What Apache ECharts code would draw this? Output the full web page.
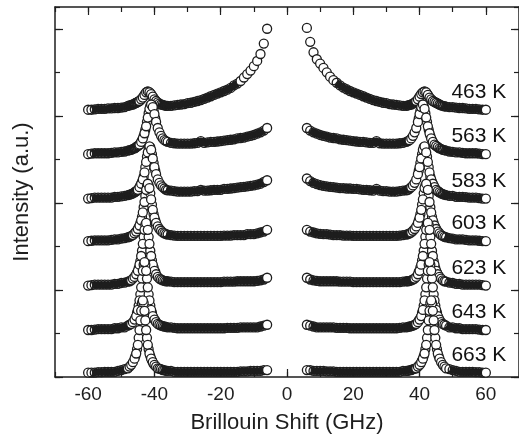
<!DOCTYPE html>
<html>
<head>
<meta charset="utf-8">
<script src="https://cdn.jsdelivr.net/npm/echarts@6/dist/echarts.min.js"></script>
<style>
  html, body { margin: 0; padding: 0; background: #fff; }
  #chart { width: 519px; height: 445px; }
</style>
</head>
<body>
<div id="chart"></div>
<script>
// temperatures, stacking offsets (a.u.)
var temps = [463, 563, 583, 603, 623, 643, 663];
var offsets = [3.07, 2.56, 2.05, 1.56, 1.05, 0.54, 0.05];

// anti-Stokes side, GHz
var xLeft = [-60, -59, -58, -57, -56, -55, -54, -53, -52, -51, -50, -49,
  -48, -47.5, -47, -46.5, -46, -45.5, -45, -44.5, -44, -43.5, -43, -42.5, -42,
  -41.5, -41, -40.5, -40, -39.5, -39, -38.5, -38, -37.5, -37, -36.5, -36,
  -35, -34, -33, -32, -31, -30, -29, -28, -27, -26, -25, -24, -23, -22, -21,
  -20, -19, -18, -17, -16, -15, -14, -13, -12, -11, -10, -9, -8, -7, -6];
// Stokes side, GHz
var xRight = [6, 7, 8, 9, 10, 11, 12, 13, 14, 15, 16, 17, 18, 19, 20, 21, 22,
  23, 24, 25, 26, 27, 28, 29, 30, 31, 32, 33, 34, 35,
  36, 36.5, 37, 37.5, 38, 38.5, 39, 39.5, 40, 40.5, 41, 41.5, 42, 42.5, 43,
  43.5, 44, 44.5, 45, 45.5, 46, 46.5, 47, 47.5, 48,
  49, 50, 51, 52, 53, 54, 55, 56, 57, 58, 59, 60];
// extra points on the steep flanks of the Brillouin peaks
var xLeftPeak = [-45.75, -45.25, -44.75, -44.25, -43.75, -43.25, -42.75, -42.25,
  -41.75, -41.25, -40.75, -40.25, -39.75];
var xRightPeak = [39.75, 40.25, 40.75, 41.25, 41.75, 42.25, 42.75, 43.25, 43.75,
  44.25, 44.75, 45.25, 45.75];

// intensity above each baseline
var i463L = [0, 0, 0.005, 0.01, 0.01, 0.01, 0.015, 0.015, 0.02, 0.02, 0.025, 0.03,
  0.045, 0.05, 0.055, 0.06, 0.07, 0.08, 0.09, 0.10, 0.12, 0.14, 0.17, 0.20, 0.21,
  0.20, 0.18, 0.15, 0.12, 0.10, 0.085, 0.07, 0.06, 0.055, 0.05, 0.045, 0.045,
  0.045, 0.05, 0.055, 0.06, 0.065, 0.075, 0.08, 0.09, 0.10, 0.11, 0.125, 0.14, 0.155,
  0.17, 0.185, 0.20, 0.215, 0.23, 0.25, 0.28, 0.30, 0.33, 0.37, 0.41, 0.45, 0.50,
  0.56, 0.64, 0.76, 0.93];
var i463R = [0.94, 0.78, 0.66, 0.58, 0.53, 0.48, 0.43, 0.38, 0.34, 0.31, 0.28, 0.255,
  0.235, 0.215, 0.20, 0.185, 0.17, 0.155, 0.14, 0.125, 0.11, 0.10, 0.09, 0.08, 0.075,
  0.065, 0.06, 0.055, 0.05, 0.045,
  0.045, 0.05, 0.055, 0.06, 0.07, 0.085, 0.10, 0.12, 0.15, 0.18, 0.20, 0.21, 0.20,
  0.17, 0.14, 0.12, 0.10, 0.09, 0.08, 0.07, 0.06, 0.05, 0.045, 0.04, 0.035,
  0.03, 0.03, 0.025, 0.02, 0.02, 0.015, 0.01, 0.01, 0.01, 0.005, 0, 0];
var p463L = [0.075, 0.085, 0.095, 0.11, 0.13, 0.155, 0.185, 0.205, 0.205, 0.19, 0.165, 0.135, 0.11];
var p463R = [0.135, 0.165, 0.19, 0.205, 0.205, 0.185, 0.155, 0.13, 0.11, 0.095, 0.085, 0.075, 0.065];

var i563L = [0, 0.005, 0.01, 0.01, 0.01, 0.01, 0.01, 0.015, 0.02, 0.02, 0.025, 0.03,
  0.04, 0.045, 0.05, 0.06, 0.065, 0.08, 0.095, 0.11, 0.14, 0.18, 0.24, 0.32, 0.42,
  0.52, 0.57, 0.54, 0.46, 0.37, 0.30, 0.25, 0.21, 0.18, 0.16, 0.15, 0.14,
  0.13, 0.125, 0.12, 0.12, 0.12, 0.12, 0.12, 0.125, 0.13, 0.15, 0.13, 0.135, 0.14,
  0.14, 0.145, 0.15, 0.155, 0.16, 0.165, 0.17, 0.18, 0.185, 0.19, 0.20, 0.21, 0.22,
  0.235, 0.25, 0.27, 0.30];
var i563R = [0.30, 0.27, 0.25, 0.235, 0.22, 0.21, 0.20, 0.19, 0.185, 0.18, 0.17, 0.165,
  0.16, 0.155, 0.15, 0.145, 0.14, 0.14, 0.135, 0.13, 0.13, 0.15, 0.125, 0.12, 0.12,
  0.12, 0.12, 0.12, 0.125, 0.13,
  0.14, 0.15, 0.16, 0.18, 0.21, 0.25, 0.30, 0.37, 0.46, 0.54, 0.57, 0.52, 0.42,
  0.32, 0.24, 0.18, 0.14, 0.11, 0.095, 0.08, 0.065, 0.06, 0.05, 0.045, 0.04,
  0.03, 0.025, 0.02, 0.02, 0.015, 0.01, 0.01, 0.01, 0.01, 0.005, 0, 0];
var p563L = [0.072, 0.088, 0.10, 0.125, 0.16, 0.21, 0.28, 0.37, 0.47, 0.555, 0.56, 0.50, 0.41];
var p563R = [0.41, 0.50, 0.56, 0.555, 0.47, 0.37, 0.28, 0.21, 0.16, 0.125, 0.10, 0.088, 0.072];

var i583L = [0, 0.005, 0.01, 0.01, 0.01, 0.01, 0.01, 0.01, 0.02, 0.02, 0.025, 0.03,
  0.04, 0.045, 0.05, 0.06, 0.07, 0.085, 0.10, 0.13, 0.17, 0.22, 0.30, 0.42, 0.53,
  0.60, 0.56, 0.46, 0.36, 0.28, 0.22, 0.18, 0.15, 0.13, 0.115, 0.10, 0.095,
  0.09, 0.085, 0.08, 0.08, 0.08, 0.08, 0.08, 0.085, 0.085, 0.10, 0.09, 0.09, 0.095,
  0.10, 0.10, 0.10, 0.11, 0.11, 0.115, 0.12, 0.125, 0.13, 0.135, 0.14, 0.145, 0.15,
  0.16, 0.17, 0.19, 0.21];
var i583R = [0.23, 0.20, 0.18, 0.165, 0.155, 0.145, 0.14, 0.135, 0.13, 0.125, 0.12, 0.12,
  0.115, 0.115, 0.11, 0.11, 0.105, 0.10, 0.10, 0.095, 0.09, 0.11, 0.09, 0.085, 0.085,
  0.08, 0.08, 0.08, 0.085, 0.09,
  0.095, 0.10, 0.115, 0.13, 0.15, 0.18, 0.22, 0.28, 0.36, 0.46, 0.56, 0.60, 0.53,
  0.42, 0.30, 0.22, 0.17, 0.13, 0.10, 0.085, 0.07, 0.06, 0.05, 0.045, 0.04,
  0.03, 0.03, 0.02, 0.02, 0.02, 0.015, 0.01, 0.01, 0.01, 0.005, 0, 0];
var p583L = [0.078, 0.092, 0.115, 0.15, 0.19, 0.25, 0.36, 0.48, 0.58, 0.59, 0.51, 0.41, 0.32];
var p583R = [0.32, 0.41, 0.51, 0.59, 0.58, 0.48, 0.36, 0.25, 0.19, 0.15, 0.115, 0.092, 0.078];

var i603L = [0, 0.005, 0.01, 0.01, 0.01, 0.01, 0.01, 0.015, 0.02, 0.02, 0.03, 0.035,
  0.045, 0.05, 0.06, 0.07, 0.09, 0.11, 0.14, 0.18, 0.24, 0.33, 0.45, 0.59, 0.66,
  0.61, 0.48, 0.36, 0.27, 0.21, 0.17, 0.14, 0.12, 0.10, 0.09, 0.08, 0.075,
  0.07, 0.065, 0.06, 0.06, 0.06, 0.06, 0.06, 0.06, 0.06, 0.06, 0.06, 0.06, 0.06,
  0.06, 0.06, 0.06, 0.065, 0.065, 0.065, 0.07, 0.07, 0.07, 0.07, 0.08, 0.08, 0.08,
  0.09, 0.10, 0.11, 0.13];
var i603R = [0.13, 0.11, 0.10, 0.09, 0.085, 0.08, 0.08, 0.075, 0.07, 0.07, 0.07, 0.065,
  0.065, 0.065, 0.06, 0.06, 0.06, 0.06, 0.06, 0.06, 0.06, 0.06, 0.06, 0.06, 0.06,
  0.06, 0.06, 0.06, 0.065, 0.07,
  0.075, 0.08, 0.09, 0.10, 0.12, 0.14, 0.17, 0.21, 0.27, 0.36, 0.48, 0.61, 0.66,
  0.59, 0.45, 0.33, 0.24, 0.18, 0.14, 0.11, 0.09, 0.07, 0.06, 0.05, 0.045,
  0.035, 0.03, 0.02, 0.02, 0.02, 0.015, 0.01, 0.01, 0.01, 0.005, 0, 0];
var p603L = [0.10, 0.125, 0.16, 0.21, 0.28, 0.39, 0.52, 0.63, 0.64, 0.55, 0.42, 0.31, 0.24];
var p603R = [0.24, 0.31, 0.42, 0.55, 0.64, 0.63, 0.52, 0.39, 0.28, 0.21, 0.16, 0.125, 0.10];

var i623L = [0, 0.005, 0.01, 0.01, 0.01, 0.01, 0.01, 0.01, 0.02, 0.02, 0.03, 0.035,
  0.045, 0.05, 0.06, 0.08, 0.10, 0.13, 0.17, 0.24, 0.34, 0.48, 0.64, 0.72, 0.64,
  0.48, 0.34, 0.24, 0.17, 0.13, 0.10, 0.08, 0.07, 0.06, 0.055, 0.05, 0.05,
  0.045, 0.04, 0.04, 0.04, 0.04, 0.04, 0.04, 0.04, 0.04, 0.04, 0.04, 0.04, 0.04,
  0.04, 0.04, 0.04, 0.045, 0.045, 0.045, 0.045, 0.05, 0.05, 0.05, 0.05, 0.05, 0.05,
  0.055, 0.06, 0.07, 0.09];
var i623R = [0.09, 0.07, 0.06, 0.055, 0.05, 0.05, 0.05, 0.05, 0.05, 0.05, 0.045, 0.045,
  0.045, 0.045, 0.04, 0.04, 0.04, 0.04, 0.04, 0.04, 0.04, 0.04, 0.04, 0.04, 0.04,
  0.04, 0.04, 0.04, 0.04, 0.045,
  0.05, 0.05, 0.055, 0.06, 0.07, 0.08, 0.10, 0.13, 0.17, 0.24, 0.34, 0.48, 0.64,
  0.72, 0.64, 0.48, 0.34, 0.24, 0.17, 0.13, 0.10, 0.08, 0.06, 0.05, 0.045,
  0.035, 0.03, 0.02, 0.02, 0.01, 0.01, 0.01, 0.01, 0.01, 0.01, 0.005, 0];
var p623L = [0.11, 0.15, 0.20, 0.28, 0.40, 0.56, 0.70, 0.70, 0.56, 0.40, 0.29, 0.21, 0.16];
var p623R = [0.16, 0.21, 0.29, 0.40, 0.56, 0.70, 0.70, 0.56, 0.40, 0.28, 0.20, 0.15, 0.11];

var i643L = [0, 0, 0.005, 0.01, 0.01, 0.01, 0.01, 0.01, 0.02, 0.02, 0.03, 0.03,
  0.05, 0.06, 0.07, 0.09, 0.12, 0.16, 0.23, 0.34, 0.49, 0.68, 0.78, 0.68, 0.49,
  0.34, 0.23, 0.16, 0.12, 0.09, 0.07, 0.06, 0.05, 0.045, 0.04, 0.035, 0.03,
  0.03, 0.025, 0.02, 0.02, 0.02, 0.02, 0.02, 0.02, 0.02, 0.02, 0.02, 0.02, 0.02,
  0.02, 0.02, 0.02, 0.02, 0.025, 0.025, 0.025, 0.025, 0.03, 0.03, 0.03, 0.03, 0.03,
  0.03, 0.04, 0.05, 0.06];
var i643R = [0.06, 0.05, 0.04, 0.03, 0.03, 0.03, 0.03, 0.03, 0.03, 0.025, 0.025, 0.025,
  0.025, 0.02, 0.02, 0.02, 0.02, 0.02, 0.02, 0.02, 0.02, 0.02, 0.02, 0.02, 0.02,
  0.02, 0.02, 0.02, 0.025, 0.03,
  0.03, 0.035, 0.04, 0.045, 0.05, 0.06, 0.07, 0.09, 0.12, 0.16, 0.23, 0.34, 0.49,
  0.68, 0.78, 0.68, 0.49, 0.34, 0.23, 0.16, 0.12, 0.09, 0.07, 0.06, 0.05,
  0.03, 0.03, 0.02, 0.02, 0.01, 0.01, 0.01, 0.01, 0.01, 0.005, 0, 0];
var p643L = [0.14, 0.20, 0.28, 0.41, 0.59, 0.75, 0.75, 0.59, 0.41, 0.28, 0.20, 0.14, 0.11];
var p643R = [0.11, 0.14, 0.20, 0.28, 0.41, 0.59, 0.75, 0.75, 0.59, 0.41, 0.28, 0.20, 0.14];

var i663L = [0, 0, 0, 0.005, 0.005, 0.01, 0.01, 0.01, 0.01, 0.02, 0.03, 0.04,
  0.05, 0.07, 0.09, 0.12, 0.16, 0.22, 0.32, 0.49, 0.71, 0.83, 0.71, 0.49, 0.32,
  0.22, 0.16, 0.12, 0.09, 0.07, 0.05, 0.045, 0.04, 0.03, 0.03, 0.02, 0.02,
  0.02, 0.01, 0.01, 0.01, 0.01, 0.01, 0.01, 0.01, 0.01, 0.01, 0.01, 0.01, 0.01,
  0.01, 0.01, 0.01, 0.01, 0.01, 0.01, 0.01, 0.01, 0.015, 0.015, 0.015, 0.02, 0.02,
  0.02, 0.02, 0.03, 0.03];
var i663R = [0.03, 0.03, 0.02, 0.02, 0.02, 0.02, 0.015, 0.015, 0.015, 0.01, 0.01, 0.01,
  0.01, 0.01, 0.01, 0.01, 0.01, 0.01, 0.01, 0.01, 0.01, 0.01, 0.01, 0.01, 0.01,
  0.01, 0.01, 0.01, 0.01, 0.02,
  0.02, 0.02, 0.03, 0.03, 0.04, 0.045, 0.05, 0.07, 0.09, 0.12, 0.16, 0.22, 0.32,
  0.49, 0.71, 0.83, 0.71, 0.49, 0.32, 0.22, 0.16, 0.12, 0.09, 0.07, 0.05,
  0.04, 0.03, 0.02, 0.01, 0.01, 0.01, 0.01, 0.01, 0.005, 0.005, 0, 0];
var p663L = [0.19, 0.27, 0.40, 0.60, 0.80, 0.80, 0.60, 0.40, 0.27, 0.19, 0.14, 0.10, 0.08];
var p663R = [0.08, 0.10, 0.14, 0.19, 0.27, 0.40, 0.60, 0.80, 0.80, 0.60, 0.40, 0.27, 0.19];

var leftSets = [i463L, i563L, i583L, i603L, i623L, i643L, i663L];
var rightSets = [i463R, i563R, i583R, i603R, i623R, i643R, i663R];
var leftPeakSets = [p463L, p563L, p583L, p603L, p623L, p643L, p663L];
var rightPeakSets = [p463R, p563R, p583R, p603R, p623R, p643R, p663R];

var xMajor = [-60, -40, -20, 0, 20, 40, 60];
var yMajor = [0, 1, 2, 3, 4];

var ink = '#1e1e1e';
var font = 'Liberation Sans, Arial, sans-serif';
// where the trace is nearly flat the densely packed circles merge into a solid band
var flatSlope = 0.032;

var myChart = echarts.init(document.getElementById('chart'));

// split one side of a spectrum into a solid band (flat parts) and circle styles
function side(xs, ys, off, band, marks) {
    var n = xs.length;
    var flat = [];
    for (var i = 0; i < n - 1; i++) {
        flat.push(Math.abs((ys[i + 1] - ys[i]) / (xs[i + 1] - xs[i])) <= flatSlope);
    }
    for (var j = 0; j < n; j++) {
        var pt = [xs[j], ys[j] + off];
        band.push(pt);
        if (j < n - 1 && !flat[j]) band.push(null);
        var inside = j > 0 && j < n - 1 && flat[j - 1] && flat[j];
        marks.push({value: pt, itemStyle: {color: inside ? 'rgba(255,255,255,0)' : '#fff', opacity: 1}});
    }
    band.push(null);
}

var series = [];
temps.forEach(function (t, k) {
    var band = [];
    var marks = [];
    xLeftPeak.forEach(function (x, i) {
        marks.push([x, leftPeakSets[k][i] + offsets[k]]);
    });
    xRightPeak.forEach(function (x, i) {
        marks.push([x, rightPeakSets[k][i] + offsets[k]]);
    });
    side(xLeft, leftSets[k], offsets[k], band, marks);
    side(xRight, rightSets[k], offsets[k], band, marks);
    marks[marks.length - 1].label = {
        show: true,
        position: 'top',
        distance: 2,
        offset: [-7, 0],
        formatter: t + ' K',
        color: '#111',
        opacity: 1,
        fontSize: 21,
        fontFamily: font
    };
    series.push({
        type: 'line',
        name: t + ' K band',
        xAxisIndex: 0,
        yAxisIndex: 0,
        showSymbol: false,
        connectNulls: false,
        silent: true,
        lineStyle: {color: ink, width: 7, cap: 'round', join: 'round', opacity: 1},
        z: 10 + 2 * k,
        data: band
    });
    series.push({
        type: 'scatter',
        name: t + ' K',
        xAxisIndex: 0,
        yAxisIndex: 0,
        symbol: 'circle',
        symbolSize: 9,
        silent: true,
        itemStyle: {color: '#fff', borderColor: ink, borderWidth: 1.3, opacity: 1},
        z: 11 + 2 * k,
        data: marks
    });
});

function xAx(pos, major) {
    var ax = {
        type: 'value',
        position: pos,
        min: -70,
        max: 70,
        splitLine: {show: false},
        axisLine: {show: !major, onZero: false, lineStyle: {color: ink, width: 1.5}},
        axisTick: {inside: true, length: major ? 8 : 5, lineStyle: {color: ink, width: 1.2}},
        axisLabel: {show: false}
    };
    if (major) {
        ax.axisTick.customValues = xMajor;
        if (pos === 'bottom') {
            ax.axisLabel = {show: true, customValues: xMajor, margin: 8, color: ink, fontSize: 19, fontFamily: font};
        }
    } else {
        ax.interval = 10;
    }
    return ax;
}

function yAx(pos, major) {
    var ax = {
        type: 'value',
        position: pos,
        min: 0,
        max: 4.25,
        splitLine: {show: false},
        axisLine: {show: !major, onZero: false, lineStyle: {color: ink, width: 1.5}},
        axisTick: {inside: true, length: major ? 8 : 5, lineStyle: {color: ink, width: 1.2}},
        axisLabel: {show: false}
    };
    if (major) {
        ax.axisTick.customValues = yMajor;
    } else {
        ax.interval = 0.5;
    }
    return ax;
}

var xs = [xAx('bottom', false), xAx('bottom', true), xAx('top', false), xAx('top', true)];
xs[0].name = 'Brillouin Shift (GHz)';
xs[0].nameLocation = 'middle';
xs[0].nameGap = 35;
xs[0].nameTextStyle = {color: ink, fontSize: 22, fontFamily: font};

var ys = [yAx('left', false), yAx('left', true), yAx('right', false), yAx('right', true)];
ys[0].name = 'Intensity (a.u.)';
ys[0].nameLocation = 'middle';
ys[0].nameGap = 22;
ys[0].nameTextStyle = {color: ink, fontSize: 22, fontFamily: font};

myChart.setOption({
    animation: false,
    backgroundColor: '#fff',
    grid: {left: 55, top: 7, width: 466, height: 370, containLabel: false},
    xAxis: xs,
    yAxis: ys,
    series: series
});
</script>
</body>
</html>
